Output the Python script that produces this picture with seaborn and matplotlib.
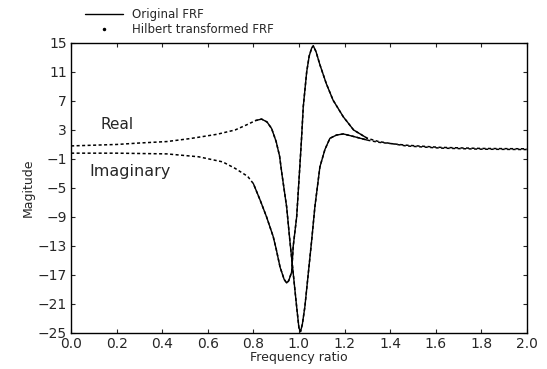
import numpy as np
import pandas as pd
import matplotlib
matplotlib.use("Agg")
import matplotlib.pyplot as plt
from matplotlib.lines import Line2D
import seaborn as sns

# ---- data ----
real_freq = [0.00, 0.10, 0.20, 0.30, 0.42, 0.52, 0.64, 0.72, 0.77, 0.81, 0.836, 0.86,
             0.88, 0.90, 0.915, 0.925, 0.946, 0.96, 0.975, 0.99, 1.00, 1.007, 1.015,
             1.026, 1.041, 1.056, 1.07, 1.092, 1.114, 1.136, 1.165, 1.195, 1.24, 1.30,
             1.35, 1.47, 1.62, 1.80, 2.00]
real_vals = [0.8, 0.9, 1.0, 1.2, 1.4, 1.8, 2.4, 3.0, 3.7, 4.3, 4.5, 4.1,
             3.2, 1.4, -0.6, -3.0, -7.6, -12.2, -16.8, -21.4, -24.3, -24.8, -23.8,
             -21.4, -16.8, -12.2, -7.6, -2.1, 0.3, 1.85, 2.3, 2.45, 2.1, 1.6,
             1.3, 0.9, 0.6, 0.45, 0.4]

imag_freq = [0.00, 0.20, 0.42, 0.56, 0.665, 0.72, 0.775, 0.80, 0.83, 0.858, 0.887, 0.90,
             0.917, 0.935, 0.946, 0.955, 0.968, 0.975, 0.99, 1.004, 1.011, 1.019, 1.034,
             1.045, 1.056, 1.063, 1.075, 1.092, 1.12, 1.15, 1.195, 1.24, 1.30, 1.35,
             1.47, 1.62, 1.80, 2.00]
imag_vals = [-0.2, -0.2, -0.3, -0.7, -1.4, -2.3, -3.4, -4.4, -6.7, -9.0, -11.7, -13.4,
             -15.9, -17.6, -18.1, -17.8, -16.6, -13.0, -9.0, -2.0, 1.6, 6.2, 11.0,
             13.2, 14.3, 14.6, 13.8, 12.0, 9.4, 7.1, 4.8, 3.0, 1.85, 1.4,
             0.8, 0.5, 0.35, 0.3]

orig_range = (0.80, 1.30)   # span of the measured (original) FRF
x_ticks = [0.0, 0.2, 0.4, 0.6, 0.8, 1.0, 1.2, 1.4, 1.6, 1.8, 2.0]
y_ticks = [15, 11, 7, 3, -1, -5, -9, -13, -17, -21, -25]

sns.set_style("ticks")
plt.rcParams["font.family"] = ["DejaVu Sans"]

fig = plt.figure(figsize=(5.47, 3.69), dpi=100)
ax = fig.add_axes([0.130, 0.0976, 0.833, 0.786])

real_df = pd.DataFrame({"freq": real_freq, "val": real_vals})
imag_df = pd.DataFrame({"freq": imag_freq, "val": imag_vals})

for df in (real_df, imag_df):
    # Hilbert transformed FRF (full range, dotted)
    sns.lineplot(data=df, x="freq", y="val", ax=ax, color="black", lw=1.1,
                 linestyle=(0, (2, 1.6)), sort=False, estimator=None)
    # Original FRF (measured range, solid)
    sub = df[(df["freq"] >= orig_range[0]) & (df["freq"] <= orig_range[1])]
    sns.lineplot(data=sub, x="freq", y="val", ax=ax, color="black", lw=1.0,
                 sort=False, estimator=None)

ax.set_xlim(0, 2.0)
ax.set_ylim(-25, 15)
ax.set_xticks(x_ticks)
ax.set_xticklabels([f"{v:.1f}" for v in x_ticks], fontsize=10)
ax.set_yticks(y_ticks)
ax.set_yticklabels([str(v).replace("-", "\u2212") for v in y_ticks], fontsize=10)
ax.tick_params(direction="in", top=True, right=True, length=3, width=0.8, pad=3)
for s in ax.spines.values():
    s.set_linewidth(1.0)
    s.set_color("black")

ax.set_xlabel("Frequency ratio", fontsize=9, labelpad=0)
ax.set_ylabel("Magitude", fontsize=9, labelpad=2)

ax.text(0.20, 3.8, "Real", fontsize=11, ha="center", va="center")
ax.text(0.26, -2.7, "Imaginary", fontsize=11.5, ha="center", va="center")

handles = [Line2D([], [], color="black", lw=1.0),
           Line2D([], [], color="black", lw=0, marker=".", markersize=3)]
fig.legend(handles, ["Original FRF", "Hilbert transformed FRF"],
           loc="upper left", bbox_to_anchor=(0.14, 1.0), frameon=False,
           fontsize=8.5, handlelength=3.2, labelspacing=0.15, borderpad=0.2)

fig.savefig("out.png", dpi=100)
